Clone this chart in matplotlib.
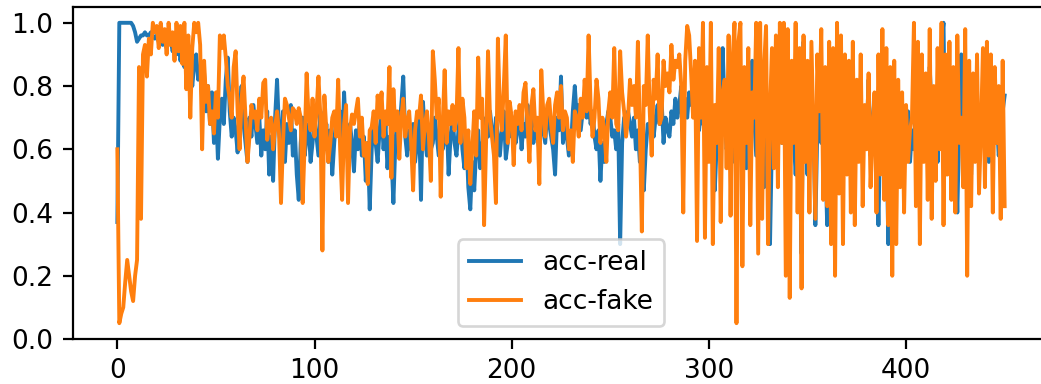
import numpy as np
import matplotlib
matplotlib.use('Agg')
import matplotlib.pyplot as plt

# accuracy per step
acc_real = [
    0.37, 1.0, 1.0, 1.0, 1.0, 1.0, 1.0, 1.0, 0.99, 0.97,
    0.94, 0.95, 0.96, 0.96, 0.97, 0.96, 0.96, 0.97, 0.96, 0.95,
    0.96, 0.94, 0.95, 0.93, 0.96, 0.92, 0.94, 0.95, 0.91, 0.93,
    0.90, 0.94, 0.88, 0.92, 0.86, 0.91, 0.84, 0.89, 0.80, 0.87,
    0.90, 0.82, 0.86, 0.76, 0.84, 0.72, 0.80, 0.68, 0.78, 0.62,
    0.74, 0.57, 0.70, 0.76, 0.68, 0.82, 0.89, 0.72, 0.64, 0.70,
    0.66, 0.59, 0.72, 0.80, 0.68, 0.62, 0.56, 0.70, 0.64, 0.74,
    0.68, 0.62, 0.70, 0.58, 0.66, 0.60, 0.72, 0.52, 0.64, 0.50,
    0.70, 0.82, 0.66, 0.60, 0.72, 0.56, 0.68, 0.62, 0.74, 0.58,
    0.66, 0.52, 0.44, 0.62, 0.70, 0.58, 0.64, 0.68, 0.56, 0.62,
    0.70, 0.64, 0.58, 0.72, 0.62, 0.60, 0.68, 0.56, 0.66, 0.52,
    0.62, 0.70, 0.66, 0.72, 0.60, 0.78, 0.64, 0.58, 0.68, 0.62,
    0.53, 0.66, 0.60, 0.70, 0.58, 0.64, 0.50, 0.62, 0.41, 0.60,
    0.69, 0.62, 0.56, 0.66, 0.72, 0.60, 0.68, 0.54, 0.64, 0.58,
    0.43, 0.62, 0.70, 0.66, 0.74, 0.83, 0.64, 0.58, 0.66, 0.60,
    0.68, 0.56, 0.62, 0.70, 0.44, 0.75, 0.64, 0.58, 0.66, 0.60,
    0.62, 0.70, 0.64, 0.58, 0.66, 0.60, 0.63, 0.70, 0.52, 0.64,
    0.70, 0.62, 0.58, 0.66, 0.72, 0.60, 0.54, 0.64, 0.48, 0.41,
    0.56, 0.47, 0.60, 0.66, 0.54, 0.62, 0.58, 0.70, 0.64, 0.72,
    0.66, 0.60, 0.70, 0.64, 0.58, 0.66, 0.72, 0.57, 0.62, 0.68,
    0.64, 0.70, 0.62, 0.66, 0.72, 0.60, 0.68, 0.64, 0.74, 0.66,
    0.70, 0.62, 0.68, 0.64, 0.60, 0.70, 0.66, 0.62, 0.72, 0.68,
    0.64, 0.60, 0.52, 0.70, 0.66, 0.83, 0.62, 0.68, 0.64, 0.58,
    0.60, 0.72, 0.80, 0.70, 0.74, 0.66, 0.72, 0.78, 0.70, 0.76,
    0.68, 0.72, 0.64, 0.60, 0.66, 0.50, 0.62, 0.56, 0.68, 0.72,
    0.70, 0.64, 0.66, 0.60, 0.68, 0.30, 0.62, 0.70, 0.66, 0.72,
    0.68, 0.64, 0.70, 0.60, 0.66, 0.56, 0.62, 0.47, 0.60, 0.68,
    0.66, 0.72, 0.64, 0.70, 0.74, 0.68, 0.76, 0.62, 0.70, 0.66,
    0.64, 0.72, 0.68, 0.76, 0.70, 0.74, 0.80, 0.72, 0.76, 0.70,
    0.78, 0.74, 0.82, 0.70, 0.76, 0.66, 0.72, 0.68, 0.74, 0.62,
    0.70, 0.58, 0.66, 0.47, 0.62, 0.70, 0.80, 0.92, 0.72, 0.60,
    0.66, 0.76, 0.70, 0.56, 0.62, 0.74, 0.68, 0.60, 0.72, 0.54,
    0.66, 0.80, 0.88, 0.70, 0.58, 0.66, 0.74, 0.62, 0.48, 0.70,
    0.56, 0.30, 0.64, 0.72, 0.58, 0.68, 0.80, 0.62, 0.74, 0.66,
    0.70, 0.58, 0.78, 0.64, 0.52, 0.68, 0.60, 0.27, 0.94, 0.66,
    0.52, 0.72, 0.60, 0.70, 0.36, 0.66, 0.74, 0.62, 0.68, 0.58,
    0.36, 0.70, 0.88, 0.64, 0.74, 0.58, 0.68, 0.80, 0.62, 0.72,
    0.60, 0.76, 0.66, 0.54, 0.70, 0.62, 0.74, 0.66, 0.58, 0.72,
    0.64, 0.82, 0.58, 0.68, 0.76, 0.62, 0.36, 0.70, 0.60, 0.74,
    0.66, 0.30, 0.72, 0.60, 0.68, 0.56, 0.74, 0.62, 0.70, 0.64,
    0.58, 0.72, 0.56, 0.66, 0.60, 0.74, 0.68, 0.62, 0.76, 0.70,
    0.82, 0.64, 0.86, 0.72, 0.60, 0.68, 0.56, 0.70, 0.94, 1.0,
    0.52, 0.74, 0.66, 0.60, 0.70, 0.62, 0.40, 0.68, 0.90, 0.58,
    0.72, 0.64, 0.70, 0.52, 0.76, 0.62, 0.68, 0.56, 0.72, 0.64,
    0.70, 0.60, 0.56, 0.74, 0.66, 0.62, 0.70, 0.58, 0.64, 0.72,
    0.77,
]

acc_fake = [
    0.60, 0.05, 0.08, 0.10, 0.18, 0.25, 0.20, 0.15, 0.12, 0.20,
    0.25, 0.86, 0.38, 0.90, 0.93, 0.83, 0.95, 0.90, 1.00, 0.97,
    0.99, 0.92, 1.00, 0.94, 0.98, 0.90, 1.00, 0.93, 0.97, 0.88,
    1.00, 0.91, 0.99, 0.87, 1.00, 0.79, 0.96, 0.70, 0.92, 1.00,
    0.97, 1.00, 0.93, 0.60, 0.88, 0.75, 0.80, 0.68, 0.72, 0.65,
    0.78, 0.70, 0.96, 0.92, 0.96, 0.89, 0.80, 0.76, 0.70, 0.86,
    0.91, 0.72, 0.60, 0.76, 0.83, 0.70, 0.56, 0.64, 0.74, 0.70,
    0.72, 0.66, 0.76, 0.70, 0.81, 0.82, 0.63, 0.68, 0.70, 0.60,
    0.67, 0.72, 0.65, 0.43, 0.62, 0.76, 0.74, 0.70, 0.66, 0.73,
    0.72, 0.68, 0.73, 0.70, 0.43, 0.62, 0.84, 0.70, 0.66, 0.76,
    0.64, 0.72, 0.83, 0.70, 0.28, 0.77, 0.66, 0.56, 0.62, 0.70,
    0.72, 0.64, 0.82, 0.60, 0.44, 0.68, 0.74, 0.43, 0.66, 0.71,
    0.68, 0.72, 0.76, 0.64, 0.70, 0.58, 0.62, 0.49, 0.66, 0.67,
    0.72, 0.62, 0.77, 0.70, 0.78, 0.64, 0.72, 0.68, 0.86, 0.51,
    0.79, 0.66, 0.72, 0.57, 0.70, 0.76, 0.64, 0.69, 0.72, 0.62,
    0.47, 0.66, 0.72, 0.70, 0.77, 0.60, 0.68, 0.72, 0.64, 0.50,
    0.91, 0.82, 0.70, 0.76, 0.45, 0.68, 0.85, 0.62, 0.72, 0.68,
    0.74, 0.66, 0.70, 0.92, 0.62, 0.76, 0.70, 0.54, 0.66, 0.49,
    0.60, 0.72, 0.58, 0.89, 0.70, 0.76, 0.36, 0.62, 0.91, 0.70,
    0.64, 0.58, 0.43, 0.95, 0.72, 0.66, 0.80, 0.96, 0.62, 0.75,
    0.70, 0.55, 0.72, 0.68, 0.74, 0.66, 0.78, 0.81, 0.68, 0.56,
    0.74, 0.79, 0.66, 0.70, 0.49, 0.85, 0.72, 0.64, 0.74, 0.76,
    0.68, 0.62, 0.74, 0.78, 0.70, 0.80, 0.66, 0.72, 0.70, 0.60,
    0.66, 0.56, 0.72, 0.70, 0.64, 0.76, 0.70, 0.82, 0.72, 0.96,
    0.74, 0.64, 0.70, 0.82, 0.76, 0.62, 0.70, 0.66, 0.56, 0.72,
    0.78, 0.70, 0.92, 0.68, 0.66, 0.91, 0.78, 0.72, 0.64, 0.70,
    0.82, 0.74, 0.80, 0.70, 0.94, 0.66, 0.34, 0.80, 0.74, 0.96,
    0.72, 0.58, 0.82, 0.76, 0.90, 0.68, 0.70, 0.88, 0.80, 0.84,
    0.78, 0.93, 0.82, 0.88, 0.86, 0.90, 0.80, 0.40, 0.88, 0.99,
    0.96, 0.84, 0.70, 0.88, 0.31, 0.92, 0.70, 1.00, 0.32, 0.86,
    0.56, 1.00, 0.30, 0.74, 0.62, 0.92, 0.37, 0.78, 0.82, 0.54,
    0.96, 0.39, 0.88, 1.00, 0.05, 0.94, 1.00, 0.23, 0.86, 0.62,
    0.92, 0.36, 0.78, 0.70, 1.00, 0.27, 1.00, 0.38, 0.86, 0.99,
    0.30, 0.72, 0.92, 0.54, 0.96, 0.48, 1.00, 0.62, 1.00, 0.20,
    0.98, 0.13, 0.88, 0.62, 1.00, 0.40, 0.92, 0.16, 0.96, 0.56,
    0.88, 0.40, 0.94, 0.66, 0.38, 0.90, 0.72, 0.98, 0.44, 0.86,
    0.42, 0.94, 0.30, 0.92, 0.20, 1.00, 0.46, 0.96, 0.30, 0.90,
    0.52, 0.88, 0.40, 0.94, 0.36, 0.82, 0.56, 0.90, 0.42, 0.74,
    0.60, 0.84, 0.48, 0.66, 0.78, 0.40, 0.90, 0.52, 0.98, 0.44,
    0.92, 0.36, 0.86, 0.20, 0.88, 0.30, 0.82, 0.48, 0.78, 0.40,
    0.74, 0.56, 0.66, 0.70, 1.00, 0.42, 0.94, 0.30, 0.90, 0.56,
    0.84, 0.44, 0.98, 0.38, 0.80, 0.50, 0.92, 0.60, 1.00, 0.36,
    0.90, 0.52, 0.94, 0.44, 0.86, 0.40, 0.96, 0.62, 0.70, 0.48,
    0.98, 0.20, 0.88, 0.42, 0.84, 0.56, 0.90, 0.46, 0.66, 0.92,
    0.48, 0.94, 0.58, 0.90, 0.40, 0.86, 0.62, 0.80, 0.38, 0.88,
    0.42,
]

plt.rcParams['font.size'] = 19
plt.rcParams['axes.linewidth'] = 1.6
plt.rcParams['xtick.major.width'] = 1.6
plt.rcParams['ytick.major.width'] = 1.6
plt.rcParams['xtick.major.size'] = 7
plt.rcParams['ytick.major.size'] = 7
plt.rcParams['xtick.major.pad'] = 7
plt.rcParams['ytick.major.pad'] = 7
plt.rcParams['patch.linewidth'] = 1.9

fig = plt.figure(figsize=(10.41, 3.84), dpi=100)
# the source image is cropped on the right, so the axes run past the edge
ax = fig.add_axes([0.0701, 0.1172, 0.9376, 0.8646])

ax.plot(np.arange(len(acc_real)), acc_real, color='#1f77b4', linewidth=2.8, label='acc-real')
ax.plot(np.arange(len(acc_fake)), acc_fake, color='#ff7f0e', linewidth=2.8, label='acc-fake')

ax.set_ylim(0, 1.05)
ax.set_yticks([0.0, 0.2, 0.4, 0.6, 0.8, 1.0])
ax.set_xticks([0, 100, 200, 300, 400])
ax.legend(loc='lower center')

fig.savefig('out.png', dpi=100)
